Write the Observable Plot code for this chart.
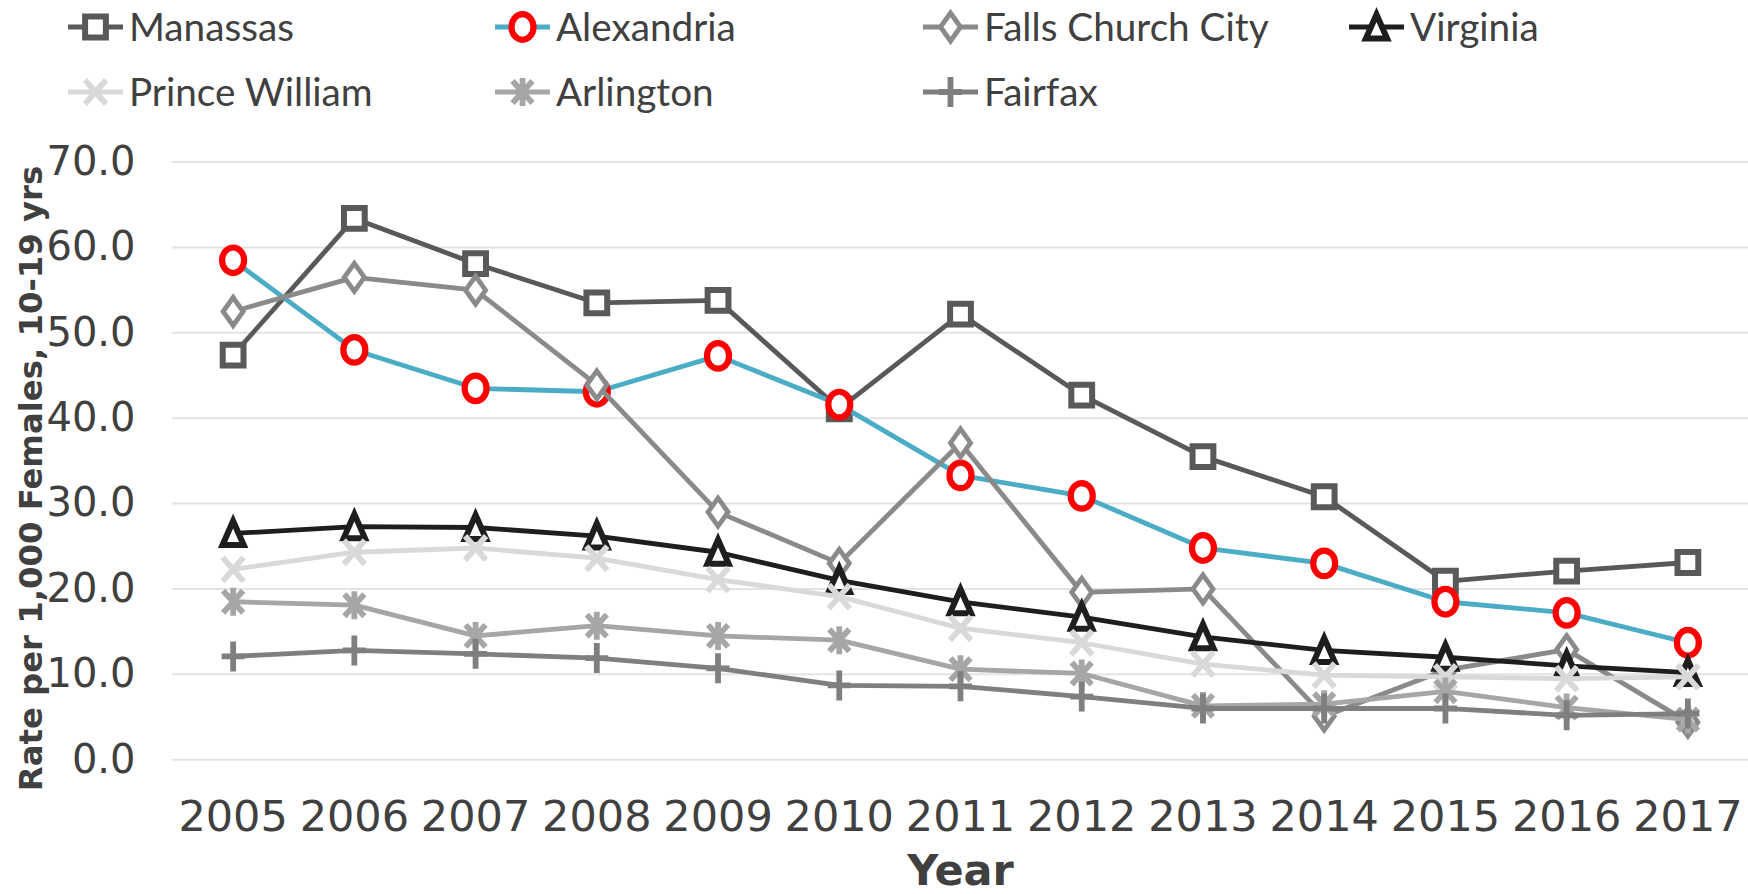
<!DOCTYPE html>
<html><head><meta charset="utf-8">
<script src="https://cdn.jsdelivr.net/npm/d3@7"></script>
<script src="https://cdn.jsdelivr.net/npm/@observablehq/plot@0.6"></script>
<style>
html,body{margin:0;padding:0;background:#fff;}
#legend svg, #chart svg{display:block;}
</style></head><body>
<div id="legend"></div>
<div id="chart"></div>
<script>
// ---- data ----
const years = [2005, 2006, 2007, 2008, 2009, 2010, 2011, 2012, 2013, 2014, 2015, 2016, 2017];
const seriesNames = ["Manassas", "Alexandria", "Falls Church City", "Virginia", "Prince William", "Arlington", "Fairfax"];
const manassas      = [47.4, 63.4, 58.1, 53.5, 53.8, 41.1, 52.2, 42.7, 35.5, 30.8, 20.9, 22.1, 23.1];
const alexandria    = [58.5, 48.0, 43.5, 43.1, 47.3, 41.6, 33.3, 30.9, 24.8, 23.0, 18.5, 17.2, 13.7];
const fallsChurch   = [52.5, 56.5, 55.0, 43.9, 29.0, 23.0, 37.1, 19.6, 20.0, 5.1, 10.5, 12.9, 4.4];
const virginia      = [26.5, 27.3, 27.2, 26.2, 24.3, 21.0, 18.5, 16.7, 14.4, 12.8, 12.0, 11.0, 10.2];
const princeWilliam = [22.3, 24.3, 24.8, 23.6, 21.1, 19.1, 15.4, 13.7, 11.2, 9.9, 9.7, 9.5, 9.7];
const arlington     = [18.5, 18.1, 14.5, 15.7, 14.5, 14.0, 10.6, 10.1, 6.3, 6.5, 8.0, 6.1, 4.7];
const fairfax       = [12.1, 12.8, 12.4, 11.9, 10.7, 8.7, 8.6, 7.4, 6.0, 6.0, 6.0, 5.2, 5.4];
const yTicks = [0, 10, 20, 30, 40, 50, 60, 70];
const xTitle = "Year";
const yTitle = "Rate per 1,000 Females, 10-19 yrs";

const values = [manassas, alexandria, fallsChurch, virginia, princeWilliam, arlington, fairfax];

// ---- marker symbols ----
function ellipsePath(ctx, rx, ry) {
  const k = 0.5523;
  ctx.moveTo(rx, 0);
  ctx.bezierCurveTo(rx, k * ry, k * rx, ry, 0, ry);
  ctx.bezierCurveTo(-k * rx, ry, -rx, k * ry, -rx, 0);
  ctx.bezierCurveTo(-rx, -k * ry, -k * rx, -ry, 0, -ry);
  ctx.bezierCurveTo(k * rx, -ry, rx, -k * ry, rx, 0);
  ctx.closePath();
}
const symSquare = {draw(ctx) { const h = 10.4; ctx.moveTo(-h, -h); ctx.lineTo(h, -h); ctx.lineTo(h, h); ctx.lineTo(-h, h); ctx.closePath(); }};
const symEllipse = {draw(ctx) { ellipsePath(ctx, 11, 12.8); }};
const symDiamond = {draw(ctx) { ctx.moveTo(0, -14); ctx.lineTo(10, 0); ctx.lineTo(0, 14); ctx.lineTo(-10, 0); ctx.closePath(); }};
const symTriangle = {draw(ctx) { ctx.moveTo(0, -12.5); ctx.lineTo(10.6, 11.5); ctx.lineTo(-10.6, 11.5); ctx.closePath(); }};
const symX = {draw(ctx) { ctx.moveTo(-10.5, -12); ctx.lineTo(10.5, 12); ctx.moveTo(10.5, -12); ctx.lineTo(-10.5, 12); }};
const symAsterisk = {draw(ctx) { ctx.moveTo(-10, -11); ctx.lineTo(10, 11); ctx.moveTo(10, -11); ctx.lineTo(-10, 11); ctx.moveTo(0, -14); ctx.lineTo(0, 14); }};
const symPlus = {draw(ctx) { ctx.moveTo(-11.5, 0); ctx.lineTo(11.5, 0); ctx.moveTo(0, -15); ctx.lineTo(0, 15); }};

const styles = [
  {line: "#595959", mark: "#595959", fill: "white", sym: symSquare, sw: 6},
  {line: "#4BACC6", mark: "#FF0000", fill: "white", sym: symEllipse, sw: 6.2},
  {line: "#8A8A8A", mark: "#8A8A8A", fill: "white", sym: symDiamond, sw: 4.8},
  {line: "#1E1E1E", mark: "#1E1E1E", fill: "white", sym: symTriangle, sw: 6},
  {line: "#D9D9D9", mark: "#D9D9D9", fill: "none", sym: symX, sw: 5.8},
  {line: "#A6A6A6", mark: "#A6A6A6", fill: "none", sym: symAsterisk, sw: 5.8},
  {line: "#7F7F7F", mark: "#7F7F7F", fill: "none", sym: symPlus, sw: 5.8}
];

// ---- table ----
const rows = [];
seriesNames.forEach((name, i) => years.forEach((yr, j) => rows.push({series: name, year: yr, value: values[i][j]})));

// ---- legend ----
const W = 1748, LH = 120;
const legendPos = [
  {x: 68, y: 27}, {x: 495, y: 27}, {x: 923, y: 27}, {x: 1349, y: 27},
  {x: 68, y: 92}, {x: 495, y: 92}, {x: 923, y: 92}
];
const lsvg = d3.select("#legend").append("svg").attr("width", W).attr("height", LH);
const cnv = document.createElement("canvas").getContext("2d");
cnv.font = "40px Lato";
const lfs = Math.max(30, Math.min(48, 40 * 165 / cnv.measureText("Manassas").width));
seriesNames.forEach((name, i) => {
  const p = legendPos[i], s = styles[i];
  const g = lsvg.append("g").attr("transform", `translate(${p.x},${p.y})`);
  g.append("line").attr("x1", 0).attr("x2", 55).attr("y1", 0).attr("y2", 0)
    .attr("stroke", s.line).attr("stroke-width", 4.8);
  g.append("path").attr("d", d3.symbol(s.sym)()).attr("transform", "translate(27.5,0)")
    .attr("fill", s.fill).attr("stroke", s.mark).attr("stroke-width", s.sw);
  g.append("text").attr("x", 61).attr("y", 0).attr("dy", "0.35em")
    .attr("font-family", "Lato").attr("font-size", lfs).attr("fill", "#404040").text(name);
});

// ---- chart ----
const H = 774;
const marks = [
  Plot.gridY(yTicks, {stroke: "#E3E3E3", strokeWidth: 2, strokeOpacity: 1}),
  Plot.axisY({ticks: yTicks, tickFormat: d3.format(".1f"), tickSize: 0, tickPadding: 37, fontSize: 40, label: null}),
  Plot.axisX({ticks: years, tickFormat: d => String(d), tickSize: 0, tickPadding: 41, fontSize: 43, label: null}),
  Plot.text([xTitle], {frameAnchor: "bottom", dy: 125, fontSize: 43, fontWeight: "bold", fill: "#404040", textAnchor: "middle"}),
  Plot.text([yTitle], {frameAnchor: "left", rotate: -90, dx: -141, dy: 17.6, fontSize: 32.3, fontWeight: "bold", fill: "#404040", textAnchor: "middle"})
];
seriesNames.forEach((name, i) => {
  const s = styles[i];
  const data = rows.filter(r => r.series === name);
  marks.push(Plot.line(data, {x: "year", y: "value", stroke: s.line, strokeWidth: 4.8, strokeLinejoin: "round"}));
  marks.push(Plot.dot(data, {x: "year", y: "value", symbol: s.sym, r: 10, stroke: s.mark, fill: s.fill, strokeWidth: s.sw, strokeLinejoin: "miter"}));
});

const chart = Plot.plot({
  width: W, height: H,
  marginLeft: 172, marginRight: 0, marginTop: 41.6, marginBottom: 134.8,
  x: {type: "linear", domain: [2004.5, 2017.5]},
  y: {domain: [0, 70]},
  style: {fontFamily: "DejaVu Sans", color: "#404040", background: "white", overflow: "visible"},
  marks
});
document.getElementById("chart").appendChild(chart);
</script>
</body></html>
